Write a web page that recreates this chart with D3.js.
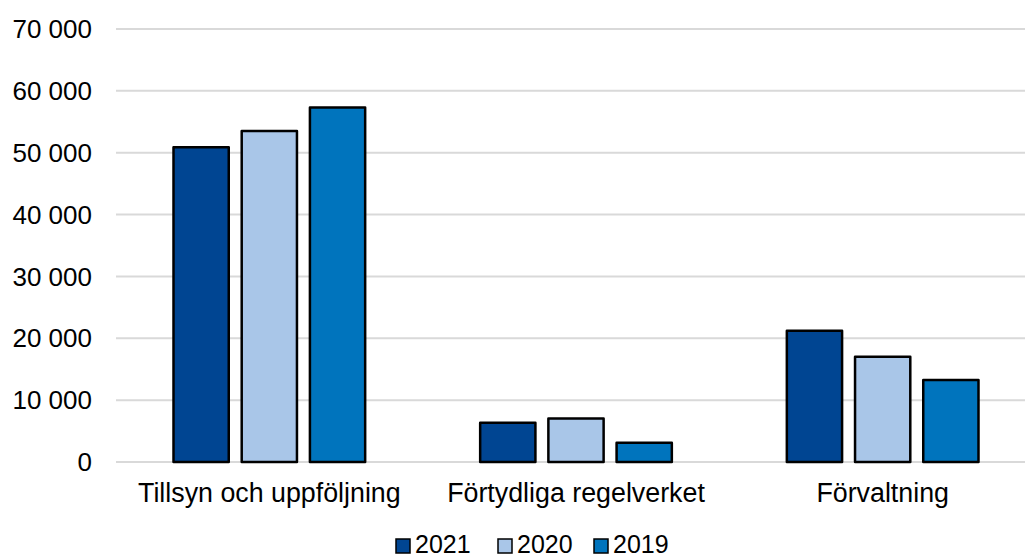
<!DOCTYPE html>
<html>
<head>
<meta charset="utf-8">
<script src="https://cdn.jsdelivr.net/npm/d3@7"></script>
<style>
  html, body { margin: 0; padding: 0; background: #fff; }
  svg { display: block; font-family: "Liberation Sans", Arial, sans-serif; }
</style>
</head>
<body>
<svg id="chart" width="1025" height="559"></svg>
<script>
const categories = ["Tillsyn och uppföljning", "Förtydliga regelverket", "Förvaltning"];
const seriesNames = ["2021", "2020", "2019"];
const values2021 = [50900, 6350, 21200];
const values2020 = [53500, 7050, 17000];
const values2019 = [57300, 3100, 13250];
const yTicks = [0, 10000, 20000, 30000, 40000, 50000, 60000, 70000];
const colors = ["#004592", "#a9c6e8", "#0074bd"];

const seriesValues = [values2021, values2020, values2019];
const data = categories.map((c, i) => ({
  category: c,
  values: seriesNames.map((s, j) => ({ series: s, value: seriesValues[j][i], color: colors[j] }))
}));

const svg = d3.select("#chart");
const x = d3.scaleBand().domain(categories).range([116, 1036]).paddingInner(0).paddingOuter(0);
const xInner = d3.scaleBand().domain(seriesNames).range([57.5, x.bandwidth() - 57.5]).paddingInner(0.19).paddingOuter(0);
const y = d3.scaleLinear().domain([0, 70000]).range([462, 29]);

const fmt = v => d3.format(",")(v).replace(/,/g, " ");

// gridlines
svg.append("g").selectAll("line").data(yTicks).join("line")
  .attr("x1", 116).attr("x2", 1025)
  .attr("y1", d => y(d)).attr("y2", d => y(d))
  .attr("stroke", "#d9d9d9").attr("stroke-width", 2);

// y axis labels
const yAxis = d3.axisLeft(y).tickValues(yTicks).tickFormat(fmt).tickSize(0).tickPadding(0);
const ya = svg.append("g").attr("transform", "translate(92,0)").call(yAxis);
ya.select(".domain").remove();
ya.selectAll("text").attr("font-size", 26).attr("fill", "#000")
  .attr("font-family", "Liberation Sans, Arial, sans-serif").attr("dy", "0.33em");

// bars
const groups = svg.append("g").selectAll("g").data(data).join("g")
  .attr("transform", d => `translate(${x(d.category)},0)`);
groups.selectAll("rect").data(d => d.values).join("rect")
  .attr("x", d => xInner(d.series))
  .attr("width", xInner.bandwidth())
  .attr("y", d => y(d.value))
  .attr("height", d => y(0) - y(d.value))
  .attr("fill", d => d.color)
  .attr("stroke", "#000").attr("stroke-width", 2.5).attr("stroke-linejoin", "round");

// x axis labels
const xAxis = d3.axisBottom(x).tickSize(0).tickPadding(0);
const xa = svg.append("g").attr("transform", "translate(0,0)").call(xAxis);
xa.select(".domain").remove();
xa.selectAll("text").attr("font-size", 26.8).attr("fill", "#000")
  .attr("font-family", "Liberation Sans, Arial, sans-serif")
  .attr("y", 502).attr("dy", null);

// legend
const legendX = [396, 498, 594];
const legend = svg.append("g").selectAll("g").data(seriesNames).join("g")
  .attr("transform", (d, i) => `translate(${legendX[i]},0)`);
legend.append("rect").attr("x", 0).attr("y", 539).attr("width", 14).attr("height", 14)
  .attr("fill", (d, i) => colors[i]).attr("stroke", "#000").attr("stroke-width", 1.5);
legend.append("text").attr("x", 19).attr("y", 553).attr("font-size", 25).attr("fill", "#000")
  .text(d => d);
</script>
</body>
</html>
